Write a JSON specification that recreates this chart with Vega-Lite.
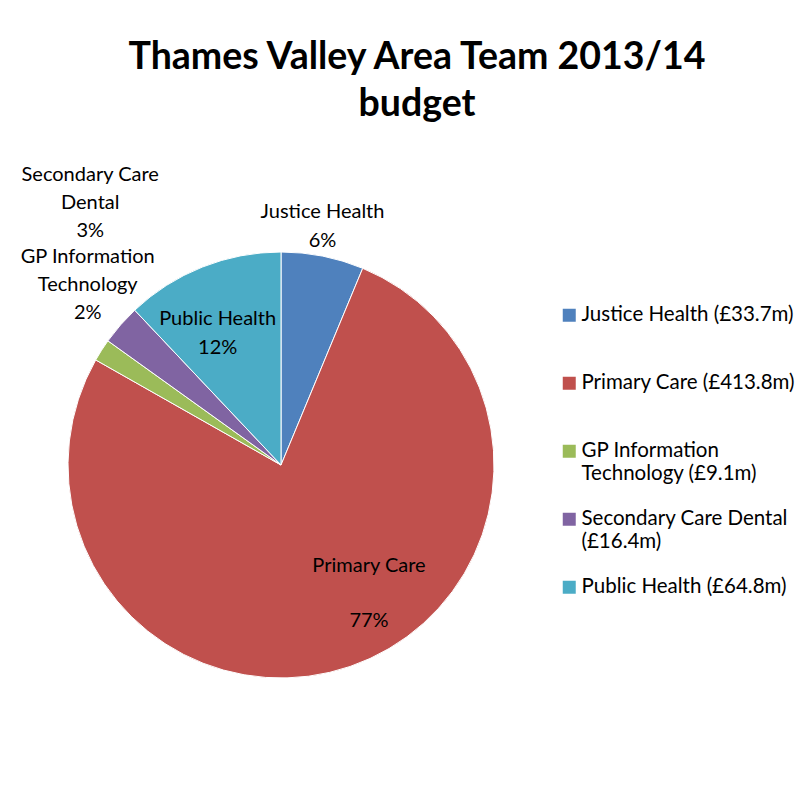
{
  "$schema": "https://vega.github.io/schema/vega-lite/v6.json",
  "autosize": "none",
  "width": 426,
  "height": 426,
  "padding": {"left": 68, "top": 252, "right": 317, "bottom": 116},
  "background": "white",
  "config": {"view": {"stroke": null}},
  "title": {
    "text": ["Thames Valley Area Team 2013/14", "budget"],
    "font": "Lato",
    "fontSize": 37.5,
    "fontWeight": "bold",
    "color": "#000000",
    "anchor": "middle",
    "frame": "group",
    "dx": 136,
    "dy": 103,
    "lineHeight": 47,
    "offset": 40
  },
  "data": {
    "values": [
      {"category": "Justice Health", "legend": "Justice Health (£33.7m)", "label": "Justice Health\n6%", "value": 33.7, "rank": 1},
      {"category": "Primary Care", "legend": "Primary Care (£413.8m)", "label": "Primary Care\n77%", "value": 413.8, "rank": 2},
      {"category": "GP Information Technology", "legend": "GP Information\nTechnology (£9.1m)", "label": "GP Information\nTechnology\n2%", "value": 9.1, "rank": 3},
      {"category": "Secondary Care Dental", "legend": "Secondary Care Dental\n(£16.4m)", "label": "Secondary Care\nDental\n3%", "value": 16.4, "rank": 4},
      {"category": "Public Health", "legend": "Public Health (£64.8m)", "label": "Public Health\n12%", "value": 64.8, "rank": 5}
    ]
  },
  "encoding": {
    "theta": {"field": "value", "type": "quantitative", "stack": true},
    "order": {"field": "rank", "type": "quantitative"},
    "detail": {"field": "category", "type": "nominal"}
  },
  "layer": [
    {
      "mark": {"type": "arc", "stroke": "#ffffff", "strokeWidth": 1},
      "encoding": {
        "color": {
          "field": "legend",
          "type": "nominal",
          "scale": {
            "domain": ["Justice Health (£33.7m)", "Primary Care (£413.8m)", "GP Information\nTechnology (£9.1m)", "Secondary Care Dental\n(£16.4m)", "Public Health (£64.8m)"],
            "range": ["#4F81BD", "#C0504D", "#9BBB59", "#8064A2", "#4BACC6"]
          },
          "legend": {
            "orient": "none",
            "legendX": 491,
            "legendY": 53,
            "title": null,
            "padding": 0,
            "symbolType": "square",
            "symbolSize": 169,
            "symbolStrokeWidth": 0,
            "symbolOpacity": 1,
            "labelFont": "Lato",
            "labelFontSize": 20.5,
            "labelColor": "#000000",
            "labelLimit": 400,
            "labelOffset": 2,
            "rowPadding": 24,
            "labelBaseline": "middle",
            "labelExpr": "length(split(datum.label, '\\n')) > 1 ? split(datum.label, '\\n') : [datum.label, ' ']"
          }
        }
      }
    },
    {
      "mark": {"type": "text", "font": "Lato", "fontSize": 20, "color": "#000000", "lineBreak": "\n", "lineHeight": 29, "radius": 243, "dx": -6, "dy": -15},
      "encoding": {"text": {"condition": {"test": "datum.category === 'Justice Health'", "field": "label"}, "value": ""}}
    },
    {
      "mark": {"type": "text", "font": "Lato", "fontSize": 20, "color": "#000000", "lineBreak": "\n", "lineHeight": 55, "radius": 154, "dx": 38, "dy": -45},
      "encoding": {"text": {"condition": {"test": "datum.category === 'Primary Care'", "field": "label"}, "value": ""}}
    },
    {
      "mark": {"type": "text", "font": "Lato", "fontSize": 20, "color": "#000000", "lineBreak": "\n", "lineHeight": 28, "radius": 265, "dx": 30, "dy": -65},
      "encoding": {"text": {"condition": {"test": "datum.category === 'GP Information Technology'", "field": "label"}, "value": ""}}
    },
    {
      "mark": {"type": "text", "font": "Lato", "fontSize": 20, "color": "#000000", "lineBreak": "\n", "lineHeight": 28, "radius": 325, "dx": 54, "dy": -76},
      "encoding": {"text": {"condition": {"test": "datum.category === 'Secondary Care Dental'", "field": "label"}, "value": ""}}
    },
    {
      "mark": {"type": "text", "font": "Lato", "fontSize": 20, "color": "#000000", "lineBreak": "\n", "lineHeight": 29, "radius": 147, "dx": -9, "dy": -9},
      "encoding": {"text": {"condition": {"test": "datum.category === 'Public Health'", "field": "label"}, "value": ""}}
    }
  ]
}
